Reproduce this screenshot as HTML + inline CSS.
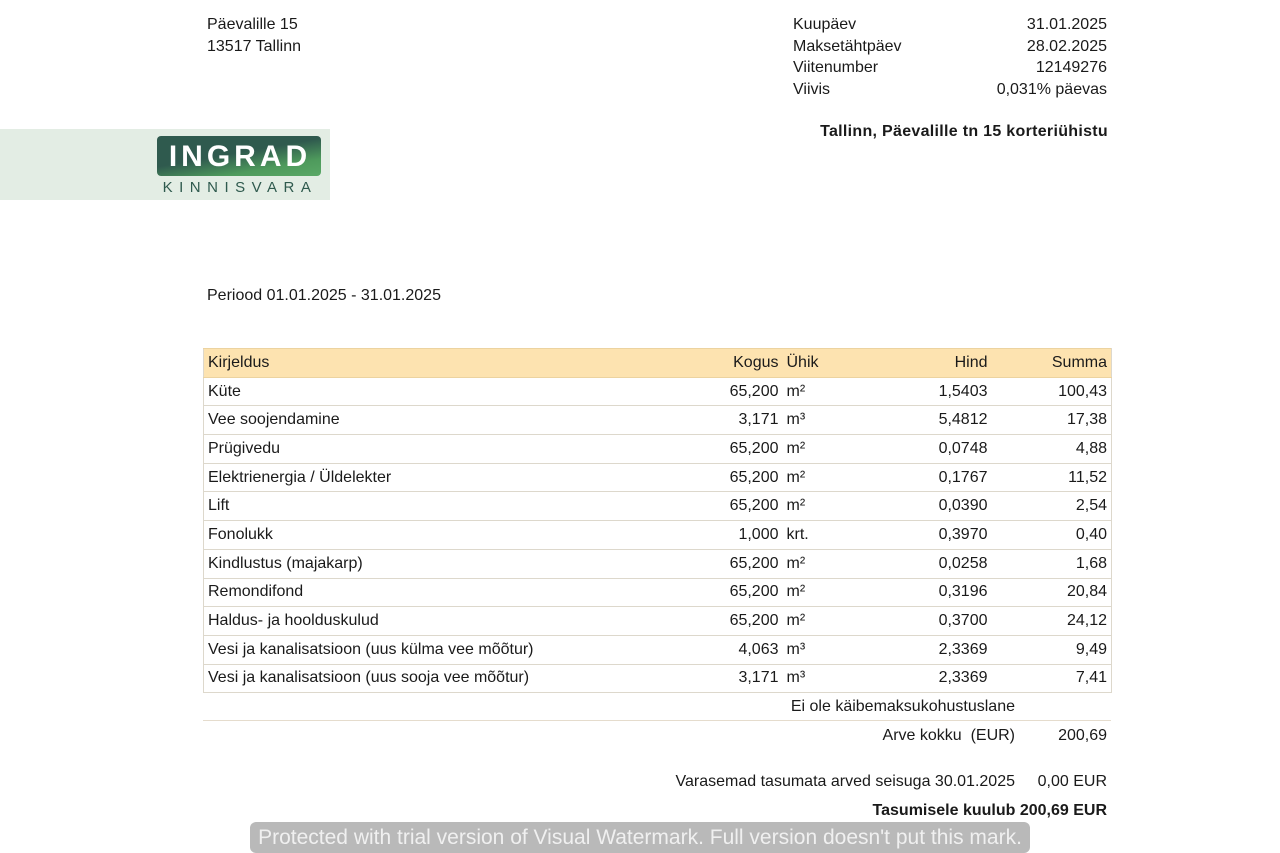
<!DOCTYPE html>
<html><head><meta charset="utf-8"><style>
body{margin:0;width:1280px;height:853px;background:#fff;position:relative;overflow:hidden;font-family:"Liberation Sans",sans-serif;font-size:16px;color:#1a1a1a}
.a{position:absolute;white-space:nowrap;line-height:20px}
.r{text-align:right}
.b{font-weight:bold}
table{position:absolute;left:203px;top:348px;width:908px;border-collapse:collapse;table-layout:fixed}
td{height:27.7px;padding:0;border-bottom:1px solid #ddd8cc;line-height:20px;white-space:nowrap}
tr.h td{background:#fde3b0;border-top:1px solid #ecd3a0;border-bottom:1px solid #ecd3a0}
td.d{padding-left:4px;border-left:1px solid #ddd8cc}
td.s{border-right:1px solid #ddd8cc;padding-right:4px}
td.u{padding-left:8px}
</style></head><body>
<div class="a" style="left:207px;top:15px">Päevalille 15</div>
<div class="a" style="left:207px;top:37px">13517 Tallinn</div>
<div class="a" style="left:793px;top:15px">Kuupäev</div>
<div class="a" style="left:793px;top:37px">Maksetähtpäev</div>
<div class="a" style="left:793px;top:58px">Viitenumber</div>
<div class="a" style="left:793px;top:80px">Viivis</div>
<div class="a r" style="right:173px;top:15px">31.01.2025</div>
<div class="a r" style="right:173px;top:37px">28.02.2025</div>
<div class="a r" style="right:173px;top:58px">12149276</div>
<div class="a r" style="right:173px;top:80px">0,031% päevas</div>
<div class="a r b" style="right:172px;top:122px;letter-spacing:0.3px">Tallinn, Päevalille tn 15 korteriühistu</div>
<div style="position:absolute;left:0;top:129px;width:330px;height:71px;background:#e3ede4"></div>
<div style="position:absolute;left:157px;top:136px;width:164px;height:40px;border-radius:4px;background:linear-gradient(170deg,#2f5a4e 0%,#2f5a4e 45%,#4e9a5c 75%,#5aa866 100%)"></div>
<div class="a b" style="left:160px;top:142px;width:160px;text-align:center;color:#fff;font-size:30px;line-height:30px;letter-spacing:4px">INGRAD</div>
<div class="a" style="left:155px;top:178px;width:170px;text-align:center;color:#2f5a4e;font-size:15px;letter-spacing:6.5px">KINNISVARA</div>
<div class="a" style="left:207px;top:286px">Periood 01.01.2025 - 31.01.2025</div>
<table>
<colgroup><col style="width:497px"><col style="width:78px"><col style="width:82px"><col style="width:127px"><col style="width:124px"></colgroup>
<tr class="h"><td class="d">Kirjeldus</td><td class="r">Kogus</td><td class="u">Ühik</td><td class="r">Hind</td><td class="r s">Summa</td></tr>
<tr><td class="d">Küte</td><td class="r">65,200</td><td class="u">m²</td><td class="r">1,5403</td><td class="r s">100,43</td></tr>
<tr><td class="d">Vee soojendamine</td><td class="r">3,171</td><td class="u">m³</td><td class="r">5,4812</td><td class="r s">17,38</td></tr>
<tr><td class="d">Prügivedu</td><td class="r">65,200</td><td class="u">m²</td><td class="r">0,0748</td><td class="r s">4,88</td></tr>
<tr><td class="d">Elektrienergia / Üldelekter</td><td class="r">65,200</td><td class="u">m²</td><td class="r">0,1767</td><td class="r s">11,52</td></tr>
<tr><td class="d">Lift</td><td class="r">65,200</td><td class="u">m²</td><td class="r">0,0390</td><td class="r s">2,54</td></tr>
<tr><td class="d">Fonolukk</td><td class="r">1,000</td><td class="u">krt.</td><td class="r">0,3970</td><td class="r s">0,40</td></tr>
<tr><td class="d">Kindlustus (majakarp)</td><td class="r">65,200</td><td class="u">m²</td><td class="r">0,0258</td><td class="r s">1,68</td></tr>
<tr><td class="d">Remondifond</td><td class="r">65,200</td><td class="u">m²</td><td class="r">0,3196</td><td class="r s">20,84</td></tr>
<tr><td class="d">Haldus- ja hoolduskulud</td><td class="r">65,200</td><td class="u">m²</td><td class="r">0,3700</td><td class="r s">24,12</td></tr>
<tr><td class="d">Vesi ja kanalisatsioon (uus külma vee mõõtur)</td><td class="r">4,063</td><td class="u">m³</td><td class="r">2,3369</td><td class="r s">9,49</td></tr>
<tr><td class="d">Vesi ja kanalisatsioon (uus sooja vee mõõtur)</td><td class="r">3,171</td><td class="u">m³</td><td class="r">2,3369</td><td class="r s">7,41</td></tr>
</table>
<div class="a r" style="right:265px;top:697px">Ei ole käibemaksukohustuslane</div>
<div style="position:absolute;left:203px;top:720px;width:908px;height:1px;background:#e5dccd"></div>
<div class="a r" style="right:265px;top:726px">Arve kokku&nbsp; (EUR)</div>
<div class="a r" style="right:173px;top:726px">200,69</div>
<div class="a r" style="right:265px;top:772px">Varasemad tasumata arved seisuga 30.01.2025</div>
<div class="a r" style="right:173px;top:772px">0,00 EUR</div>
<div class="a r b" style="right:173px;top:801px">Tasumisele kuulub&nbsp;200,69 EUR</div>
<div class="a" style="left:250px;top:822px;width:780px;height:31px;border-radius:6px;background:#b9b9b9;color:#f0f0f0;font-size:21px;line-height:31px;text-align:center">Protected with trial version of Visual Watermark. Full version doesn't put this mark.</div>
</body></html>
